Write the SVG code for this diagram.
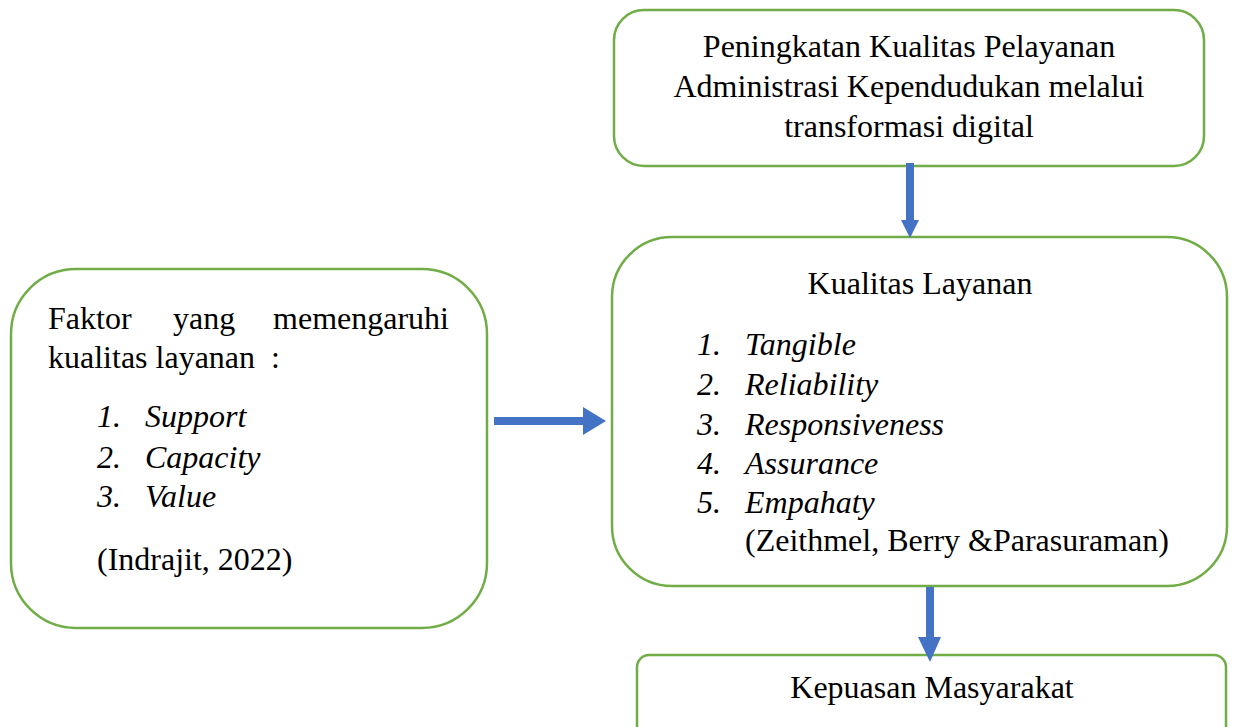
<svg xmlns="http://www.w3.org/2000/svg" width="1234" height="727" viewBox="0 0 1234 727">
<style>
.box{fill:#fff;stroke:#70AD47;stroke-width:2.5}
text{font-family:"Liberation Serif","Times New Roman",serif;font-size:32px;fill:#000}
.c{text-anchor:middle}
.i{font-style:italic}
.arr{fill:#4472C4}
</style>
<rect width="1234" height="727" fill="#fff"/>
<g id="node-top">
<rect class="box" x="614" y="10" width="590" height="156" rx="30"/>
<text class="c" x="909" y="57">Peningkatan Kualitas Pelayanan</text>
<text class="c" x="909" y="97">Administrasi Kependudukan melalui</text>
<text class="c" x="909" y="137">transformasi digital</text>
</g>
<g id="node-left">
<rect class="box" x="11" y="269" width="476" height="359" rx="65"/>
<text x="48" y="329">Faktor</text>
<text x="173" y="329">yang</text>
<text x="449" y="329" text-anchor="end">memengaruhi</text>
<text x="48" y="368">kualitas layanan</text>
<text x="271" y="368">:</text>
<text class="i" x="97" y="427">1.</text><text class="i" x="145" y="427">Support</text>
<text class="i" x="97" y="468">2.</text><text class="i" x="145" y="468">Capacity</text>
<text class="i" x="97" y="507">3.</text><text class="i" x="145" y="507">Value</text>
<text x="97" y="570">(Indrajit, 2022)</text>
</g>
<g id="node-mid">
<rect class="box" x="612" y="237" width="615" height="349" rx="60"/>
<text class="c" x="920" y="294">Kualitas Layanan</text>
<text class="i" x="697" y="355">1.</text><text class="i" x="745" y="355">Tangible</text>
<text class="i" x="697" y="395">2.</text><text class="i" x="745" y="395">Reliability</text>
<text class="i" x="697" y="435">3.</text><text class="i" x="745" y="435">Responsiveness</text>
<text class="i" x="697" y="474">4.</text><text class="i" x="745" y="474">Assurance</text>
<text class="i" x="697" y="513">5.</text><text class="i" x="745" y="513">Empahaty</text>
<text x="745" y="551">(Zeithmel, Berry &amp;Parasuraman)</text>
</g>
<g id="node-bottom">
<rect class="box" x="637" y="655" width="589" height="100" rx="12"/>
<text class="c" x="932" y="698">Kepuasan Masyarakat</text>
</g>
<g id="connectors">
<polygon class="arr" points="494,417 583,417 583,407 606,421 583,435 583,425 494,425"/>
<polygon class="arr" points="906,163 914,163 914,220 919,220 910,238 901,220 906,220"/>
<polygon class="arr" points="926,587 934,587 934,637 941,637 930,662 918,637 926,637"/>
</g>
</svg>
